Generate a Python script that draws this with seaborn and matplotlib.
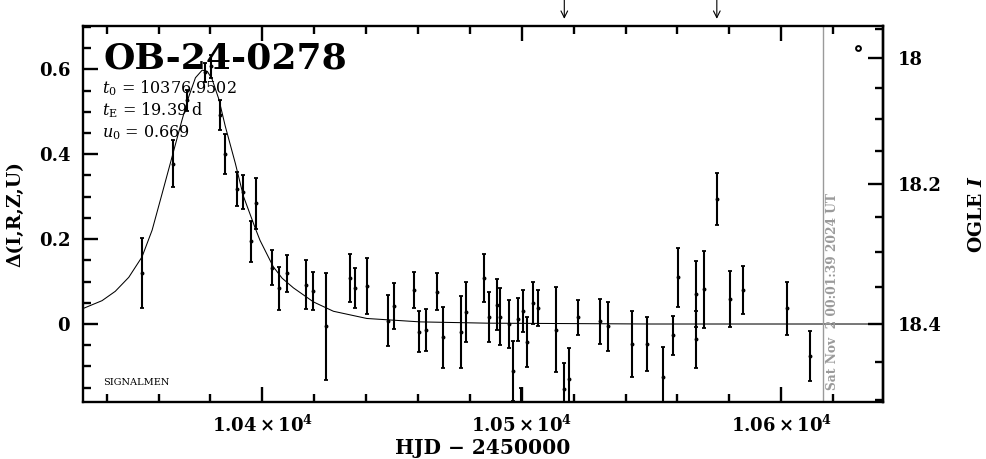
import numpy as np
import matplotlib
matplotlib.use("Agg")
import matplotlib.pyplot as plt
from matplotlib.ticker import MultipleLocator, FixedLocator, FuncFormatter
import seaborn as sns

# 광도 데이터 (HJD-2450000, Δ flux, 오차) — 그림에서 읽은 값
hjd = [10353.6, 10365.6, 10371.1, 10378.0, 10380.3, 10383.6, 10385.7, 10390.4,
       10392.7, 10397.5, 10395.6, 10403.7, 10406.6, 10409.6, 10416.7, 10419.7,
       10424.7, 10433.6, 10435.7, 10440.4, 10448.6, 10450.7, 10458.6, 10460.5,
       10463.2, 10467.4, 10469.8, 10476.7, 10478.5, 10485.3, 10487.5, 10490.4,
       10491.8, 10495.2, 10496.5, 10498.5, 10499.8, 10500.6, 10502.2, 10504.3,
       10506.3, 10513.2, 10516.3, 10518.4, 10521.5, 10530.2, 10533.4, 10542.4,
       10548.2, 10554.4, 10558.2, 10560.4, 10567.2, 10567.2, 10570.4, 10575.2,
       10580.3, 10585.2, 10602.2, 10611.2]
delta = [0.120, 0.378, 0.527, 0.593, 0.607, 0.492, 0.400, 0.319,
         0.311, 0.284, 0.195, 0.133, 0.084, 0.119, 0.093, 0.078,
         -0.005, 0.109, 0.085, 0.089, 0.008, 0.043, 0.080, -0.018,
         -0.014, 0.076, -0.031, -0.018, 0.029, 0.108, 0.017, 0.045,
         0.017, 0.000, -0.110, 0.011, -0.210, 0.031, -0.042, 0.050,
         0.038, -0.014, -0.154, -0.130, 0.016, 0.007, -0.005, -0.047,
         -0.047, -0.124, -0.027, 0.110, 0.070, -0.036, 0.082, 0.294,
         0.058, 0.080, 0.037, -0.075]
delta_err = [0.082, 0.056, 0.025, 0.022, 0.027, 0.035, 0.047, 0.040,
             0.039, 0.061, 0.048, 0.042, 0.051, 0.044, 0.057, 0.044,
             0.126, 0.056, 0.047, 0.066, 0.060, 0.054, 0.042, 0.049,
             0.049, 0.044, 0.072, 0.085, 0.071, 0.056, 0.059, 0.060,
             0.067, 0.057, 0.071, 0.051, 0.060, 0.050, 0.059, 0.049,
             0.042, 0.100, 0.063, 0.073, 0.041, 0.053, 0.058, 0.077,
             0.063, 0.071, 0.045, 0.070, 0.078, 0.067, 0.091, 0.061,
             0.066, 0.056, 0.063, 0.059]

# 모델 곡선 — 그림에서 읽은 점
model_hjd = [10330.7, 10338.2, 10343.3, 10348.5, 10353.6, 10357.5, 10361.3,
             10365.2, 10369.0, 10371.6, 10374.2, 10376.8, 10378.8, 10380.6,
             10383.2, 10385.7, 10389.6, 10392.7, 10397.3, 10399.1, 10404.2,
             10407.6, 10412.0, 10419.7, 10427.4, 10440.3, 10460.8, 10486.5,
             10549.5, 10639.4]
model_delta = [0.036, 0.055, 0.077, 0.110, 0.158, 0.221, 0.306,
               0.394, 0.480, 0.535, 0.580, 0.598, 0.595, 0.577,
               0.530, 0.466, 0.378, 0.301, 0.225, 0.197, 0.135,
               0.108, 0.085, 0.052, 0.030, 0.013, 0.005, 0.002,
               0.000, 0.000]

EVENT = "OB-24-0278"
FIT_LINES = [r"$t_0$ = 10376.9502", r"$t_{\rm E}$ = 19.39 d", r"$u_0$ = 0.669"]
ARROW_HJD = [10516.4, 10575.2]
NOW_HJD = 10616.3
NOW_LABEL = "Sat Nov  2 00:01:39 2024 UT"
OGLE_MARK = (10629.8, 0.649)

x_ticks = [10400, 10500, 10600]
y_ticks = [0, 0.2, 0.4, 0.6]
mag_ticks = [18.0, 18.2, 18.4]

# Δ <-> OGLE I 변환 (오른쪽 축 눈금에서 맞춘 2차식)
MAG0, A1, A2 = 18.4, 1.744, 0.449


def mag_to_delta(m):
    x = np.asarray(m, dtype=float) - MAG0
    return -A1 * x - A2 * x ** 2


def delta_to_mag(d):
    d = np.asarray(d, dtype=float)
    disc = np.clip(A1 ** 2 - 4 * A2 * d, 1e-9, None)
    return MAG0 + (-A1 + np.sqrt(disc)) / (2 * A2)


sns.set_theme(style="ticks")
plt.rcParams["font.family"] = ["DejaVu Serif", "DejaVu Sans"]
plt.rcParams["mathtext.fontset"] = "dejavuserif"
plt.rcParams["axes.linewidth"] = 1.7
for key in ["text.color", "axes.labelcolor", "axes.edgecolor",
            "xtick.color", "ytick.color"]:
    plt.rcParams[key] = "black"

fig = plt.figure(figsize=(9.86, 4.59), dpi=100)
ax = fig.add_axes([0.0839, 0.1242, 0.8120, 0.8192])

sns.lineplot(x=model_hjd, y=model_delta, sort=False, estimator=None,
             color="black", lw=0.75, ax=ax)
ax.errorbar(hjd, delta, yerr=delta_err, fmt="o", ms=1.8, color="black",
            ecolor="black", elinewidth=1.5, capsize=1.5, capthick=1.3)
ax.plot(*OGLE_MARK, "o", ms=3.5, mfc="none", mec="black", mew=1.4)

ax.axvline(NOW_HJD, color="#9a9a9a", lw=1)
ax.annotate(NOW_LABEL, xy=(NOW_HJD, 0.032), xycoords=("data", "axes fraction"),
            xytext=(6.5, 0), textcoords="offset points", rotation=90,
            ha="center", va="bottom", color="#9a9a9a", fontsize=8.8,
            fontweight="bold")

for t in ARROW_HJD:
    ax.annotate("", xy=(t, 1.019), xytext=(t, 1.075),
                xycoords=("data", "axes fraction"),
                arrowprops=dict(arrowstyle="->", lw=0.8, color="black",
                                shrinkA=0, shrinkB=0),
                annotation_clip=False)

ax.set_xlim(10330.75, 10639.4)
ax.set_ylim(-0.1837, 0.702)

ax.xaxis.set_major_locator(FixedLocator(x_ticks))
ax.xaxis.set_minor_locator(MultipleLocator(20))
ax.xaxis.set_major_formatter(FuncFormatter(
    lambda v, p: r"$\mathbf{%s\times10^{4}}$" % f"{v / 1e4:.2f}"))
ax.yaxis.set_major_locator(FixedLocator(y_ticks))
ax.yaxis.set_minor_locator(MultipleLocator(0.05))
ax.yaxis.set_major_formatter(FuncFormatter(lambda v, p: f"{v:g}"))

ax.tick_params(which="both", direction="in", top=True, right=False,
               width=1.7, labelsize=13)
ax.tick_params(which="major", length=10.8)
ax.tick_params(which="minor", length=5.5)
ax.tick_params(axis="y", pad=9)
ax.tick_params(axis="x", pad=9)
for lab in ax.get_xticklabels() + ax.get_yticklabels():
    lab.set_fontweight("bold")

ax2 = ax.secondary_yaxis("right", functions=(delta_to_mag, mag_to_delta))
ax2.yaxis.set_major_locator(FixedLocator(mag_ticks))
ax2.yaxis.set_minor_locator(MultipleLocator(0.05))
ax2.yaxis.set_major_formatter(FuncFormatter(lambda v, p: f"{v:g}"))
ax2.tick_params(which="both", direction="in", width=1.7, labelsize=13, pad=10.5)
ax2.tick_params(which="major", length=10.8)
ax2.tick_params(which="minor", length=5.5)
for lab in ax2.get_yticklabels():
    lab.set_fontweight("bold")
ax2.set_ylabel(r"OGLE $\mathbfit{I}$", fontsize=13.5, fontweight="bold",
               labelpad=19)

ax.set_xlabel("HJD − 2450000", fontsize=14.5, fontweight="bold", labelpad=1.5)
ax.set_ylabel("Δ(I,R,Z,U)", fontsize=13.5, fontweight="bold", labelpad=10)

ax.text(0.0254, 0.888, EVENT, transform=ax.transAxes, fontsize=26,
        fontweight="bold", va="baseline", ha="left")
for i, line in enumerate(FIT_LINES):
    ax.text(0.0237, 0.822 - i * 0.0585, line, transform=ax.transAxes,
            fontsize=11.5, va="baseline", ha="left")
ax.text(0.0254, 0.045, "SIGNALMEN", transform=ax.transAxes, fontsize=7,
        va="baseline", ha="left")

fig.savefig("out.png", dpi=100)
